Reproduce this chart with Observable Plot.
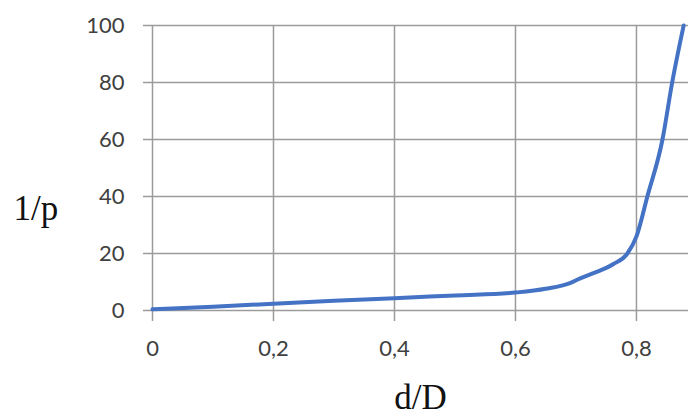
<!DOCTYPE html>
<html>
<head>
<meta charset="utf-8">
<script src="https://cdn.jsdelivr.net/npm/d3@7"></script>
<script src="https://cdn.jsdelivr.net/npm/@observablehq/plot@0.6"></script>
<style>
  html, body { margin: 0; padding: 0; background: #fff; }
  #chart { width: 688px; height: 419px; }
</style>
</head>
<body>
<div id="chart"></div>
<script>
const dD =   [0,   0.1, 0.2, 0.3, 0.4, 0.5, 0.6, 0.65, 0.69, 0.707, 0.73, 0.762, 0.785, 0.8, 0.818, 0.843, 0.859, 0.878];
const invP = [0.4, 1.3, 2.4, 3.4, 4.3, 5.3, 6.3, 7.6,  9.6,  11.3,  13.2, 16.3,  20,    26,  40,    60,    80,    100];
const xTicks = [0, 0.2, 0.4, 0.6, 0.8];
const yTicks = [0, 20, 40, 60, 80, 100];
const xTitle = "d/D";
const yTitle = "1/p";

const data = dD.map((x, i) => ({x, y: invP[i]}));
const fmt = d => String(d).replace(".", ",");
const grid = "#9b9b9b";

const chart = Plot.plot({
  width: 688,
  height: 419,
  marginLeft: 152,
  marginRight: 0,
  marginTop: 25,
  marginBottom: 109,
  style: {fontFamily: "Lato, sans-serif", fontSize: "22px", color: "#404040", background: "#fff", overflow: "visible"},
  x: {domain: [0, 0.886], ticks: xTicks},
  y: {domain: [0, 100], ticks: yTicks},
  marks: [
    Plot.gridX(xTicks, {stroke: grid, strokeOpacity: 1, strokeWidth: 1.5}),
    Plot.gridY(yTicks, {stroke: grid, strokeOpacity: 1, strokeWidth: 1.5}),
    Plot.axisX(xTicks, {tickSize: 11, tickPadding: 19, stroke: grid, strokeWidth: 1.5, tickFormat: fmt, label: null, fontSize: 22, fill: "#404040"}),
    Plot.axisY(yTicks, {tickSize: 9, tickPadding: 19, stroke: grid, strokeWidth: 1.5, label: null, fontSize: 22, fill: "#404040"}),
    Plot.line(data, {x: "x", y: "y", stroke: "#4472C4", strokeWidth: 4, curve: "monotone-x"}),
    Plot.text([xTitle], {frameAnchor: "bottom", dy: 98, text: d => d, fontFamily: "Liberation Serif, serif", fontSize: 35, fill: "#111"}),
    Plot.text([yTitle], {frameAnchor: "left", dx: -139, dy: 41, text: d => d, fontFamily: "Liberation Serif, serif", fontSize: 35, fill: "#111"})
  ]
});
document.getElementById("chart").appendChild(chart);
</script>
</body>
</html>
